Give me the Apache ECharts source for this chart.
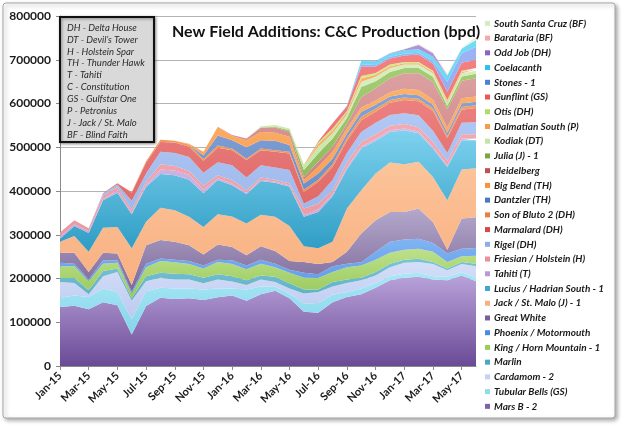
<!DOCTYPE html>
<html>
<head>
<meta charset="utf-8">
<script src="https://cdn.jsdelivr.net/npm/echarts@6/dist/echarts.min.js"></script>
<style>
html,body{margin:0;padding:0;background:#fff;}
#chart{width:622px;height:427px;}
</style>
</head>
<body>
<div id="chart"></div>
<script>
// Months (category axis)
const months = ['Jan-15','Feb-15','Mar-15','Apr-15','May-15','Jun-15','Jul-15','Aug-15','Sep-15','Oct-15','Nov-15','Dec-15',
  'Jan-16','Feb-16','Mar-16','Apr-16','May-16','Jun-16','Jul-16','Aug-16','Sep-16','Oct-16','Nov-16','Dec-16',
  'Jan-17','Feb-17','Mar-17','Apr-17','May-17','Jun-17'];

// Production per field, thousand bpd
const marsB        = [135,138,130,146,139,72,137,156,153,155,151,157,161,149,164,172,155,124,122,146,158,164,179,196,202,204,198,196,207,194];
const tubularBells = [21,23,28,31,30,35,34,23,24,22,24,20,16,26,18,9,11,19,22,17,11,13,11,9,9,9,7,8,8,8];
const cardamom     = [36,29,6,28,46,43,23,23,21,21,14,21,16,10,16,11,11,23,25,19,21,19,17,21,25,25,28,15,18,26];
const marlin       = [9,11,9,12,8,5,11,11,13,12,13,12,12,11,9,12,12,9,6,10,8,6,8,8,7,7,5,4,5,6];
const kingHorn     = [27,27,21,17,13,10,21,27,26,23,21,28,28,25,27,22,24,27,26,23,28,28,28,25,23,23,23,15,13,18];
const phoenix      = [8,6,4,8,6,5,8,6,6,7,7,5,9,9,9,8,7,11,9,13,8,7,18,25,23,23,20,19,17,18];
const greatWhite   = [23,25,17,17,15,15,42,42,41,36,25,35,30,23,31,29,20,25,23,10,27,66,72,68,63,69,48,9,69,70];
const jackStMalo   = [25,38,46,57,61,84,54,74,72,65,63,69,70,73,72,78,80,36,36,46,99,99,107,113,109,107,103,113,112,112];
const lucius       = [7,23,43,63,78,78,80,77,80,85,77,78,71,67,77,78,90,67,83,104,90,95,75,70,78,65,65,76,67,64];
const tahiti       = [5,4,4,3,5,4,4,10,11,11,8,4,4,3,3,3,3,5,6,5,5,4,4,4,4,4,4,4,4,4];
const friesian     = [9,9,7,7,8,7,7,12,10,9,9,7,8,6,5,4,4,14,13,9,10,11,11,10,10,10,11,10,10,10];
const rigel        = [0,0,0,5,6,20,19,29,30,32,30,30,34,29,28,28,31,11,17,23,22,23,26,25,25,27,26,18,26,27];
const marmalard    = [0,0,0,1,3,18,25,22,24,23,27,33,34,40,34,36,38,27,33,30,28,27,25,28,30,32,45,34,30,33];
const sonOfBluto   = [0,0,0,0,0,2,3,5,4,5,4,5,4,3,4,3,4,5,5,6,6,8,7,6,6,6,6,5,6,6];
const dantzler     = [0,0,0,0,0,0,0,0,0,0,8,23,19,26,19,22,15,14,14,13,10,11,9,8,8,8,8,7,8,8];
const bigBend      = [0,0,0,0,0,0,0,0,0,2,9,20,10,16,19,18,19,8,15,16,12,10,10,10,12,12,12,12,12,12];
const heidelberg   = [0,0,0,0,0,0,0,0,0,0,0,0,2,4,10,12,11,7,12,11,10,24,28,32,35,38,40,42,40,42];
const julia        = [0,0,0,0,0,0,0,0,0,0,0,0,0,0,0,2,4,16,19,19,14,23,16,14,12,12,12,8,10,10];
const kodiak       = [0,0,0,0,0,0,0,0,0,0,0,0,0,0,3,4,4,11,15,12,8,12,10,9,8,8,8,7,7,7];
const dalmatian    = [0,0,0,0,0,0,0,0,0,0,0,0,0,0,0,0,0,1,6,6,5,7,5,4,3,3,3,3,3,3];
const otis         = [0,0,0,0,0,0,0,0,0,0,0,0,0,0,0,0,0,0,4,5,3,6,4,4,3,3,3,3,3,3];
const gunflint     = [0,0,0,0,0,0,0,0,0,0,0,0,0,0,0,0,0,0,2,12,10,21,14,14,15,17,16,19,18,19];
const stones       = [0,0,0,0,0,0,0,0,0,0,0,0,0,0,0,0,0,0,0,0,2,6,4,4,4,4,6,23,22,30];
const coelacanth   = [0,0,0,0,0,0,0,0,0,0,0,0,0,0,0,0,0,0,0,0,0,8,8,7,8,8,10,14,10,15];
const oddJob       = [0,0,0,0,0,0,0,0,0,0,0,0,0,0,0,0,0,0,0,0,0,0,1,1,2,10,8,0,0,0];
const barataria    = [0,0,0,0,0,0,0,0,0,0,0,0,0,0,0,0,0,0,0,0,0,0,0,0,0,1,1,2,1,2];
const southSantaCruz = [0,0,0,0,0,0,0,0,0,0,0,0,0,0,0,0,0,0,0,0,0,0,0,0,1,1,1,2,1,5];

const yTicks = [0,100000,200000,300000,400000,500000,600000,700000,800000];
const abbreviations = ['DH - Delta House','DT - Devil\u2019s Tower','H - Holstein Spar','TH - Thunder Hawk','T - Tahiti',
  'C - Constitution','GS - Gulfstar One','P - Petronius','J - Jack / St. Malo','BF - Blind Faith'];
const titleText = 'New Field Additions: C&C Production (bpd)';

const grad = (a, b) => new echarts.graphic.LinearGradient(0, 0, 0, 1, [{offset: 0, color: a}, {offset: 1, color: b}]);

const defs = [
  ['Mars B - 2', marsB, '#8060a8', grad('#b9a2da', '#6a4a96')],
  ['Tubular Bells (GS)', tubularBells, '#8fdcef', grad('#a8e8f6', '#86d4ea')],
  ['Cardamom - 2', cardamom, '#c4d2f4', grad('#d4def8', '#bccaf0')],
  ['Marlin', marlin, '#4aa8c0', grad('#7cc4d6', '#5aaec4')],
  ['King / Horn Mountain - 1', kingHorn, '#9ccc58', grad('#bde08a', '#98c85a')],
  ['Phoenix / Motormouth', phoenix, '#4a8ce0', grad('#80b4f4', '#5c98e4')],
  ['Great White', greatWhite, '#7a609a', grad('#b4a8cc', '#7c6898')],
  ['Jack / St. Malo (J) - 1', jackStMalo, '#f8b080', grad('#fcc49a', '#f8b080')],
  ['Lucius / Hadrian South - 1', lucius, '#40a8cc', grad('#7ed2ee', '#2e9cc4')],
  ['Tahiti (T)', tahiti, '#b89ad8', grad('#d0b8e8', '#c4a8dc')],
  ['Friesian / Holstein (H)', friesian, '#ec9098', grad('#f4aab0', '#ea98a0')],
  ['Rigel (DH)', rigel, '#8caee8', grad('#b0c8f4', '#98b4ea')],
  ['Marmalard (DH)', marmalard, '#d84848', grad('#ec8080', '#dc6464')],
  ['Son of Bluto 2 (DH)', sonOfBluto, '#e88040', grad('#f4a060', '#ea8c4c')],
  ['Dantzler (TH)', dantzler, '#4a78c0', grad('#84a4d8', '#6686c4')],
  ['Big Bend (TH)', bigBend, '#f89040', grad('#fcb068', '#f89a4c')],
  ['Heidelberg', heidelberg, '#c05050', grad('#dca0a0', '#cc7676')],
  ['Julia (J) - 1', julia, '#78a840', grad('#a4cc74', '#84b450')],
  ['Kodiak (DT)', kodiak, '#c4e4a4', grad('#d8eec0', '#c0e0a0')],
  ['Dalmatian South (P)', dalmatian, '#f89c48', grad('#fcb068', '#f8a050')],
  ['Otis (DH)', otis, '#b0dc60', grad('#d0ec90', '#b8e070')],
  ['Gunflint (GS)', gunflint, '#e85858', grad('#f48080', '#e86868')],
  ['Stones - 1', stones, '#4a80d8', grad('#9cb4f4', '#7c9ae8')],
  ['Coelacanth', coelacanth, '#30c0e8', grad('#70dcf8', '#48c8ec')],
  ['Odd Job (DH)', oddJob, '#8c64c0', grad('#b094dc', '#9676c8')],
  ['Barataria (BF)', barataria, '#f4aaaa', grad('#f8c0c0', '#f4b0b0')],
  ['South Santa Cruz (BF)', southSantaCruz, '#d4ecc0', grad('#e0f2d0', '#d4ecc0')]
];

const series = defs.map(([name, data, legendColor, fill]) => ({
  name: name,
  type: 'line',
  stack: 'total',
  data: data.map(v => v * 1000),
  symbol: 'none',
  showSymbol: false,
  lineStyle: {width: 0, opacity: 0},
  itemStyle: {color: legendColor},
  areaStyle: {color: fill, opacity: 1},
  emphasis: {disabled: true},
  z: 2
}));

const chart = echarts.init(document.getElementById('chart'), null, {renderer: 'canvas'});

const abbrevText = abbreviations.map((t, i) => ({
  type: 'text', z: 101, x: 67, y: 27.7 + i * 11.9,
  style: {text: t, fill: '#2a2a2a', fontStyle: 'italic', fontWeight: 'normal', fontSize: 9.5,
    fontFamily: 'Lato', verticalAlign: 'middle', align: 'left'}
}));

chart.setOption({
  animation: false,
  backgroundColor: 'transparent',
  grid: {left: 60, right: 146, top: 16, bottom: 61, containLabel: false, outerBoundsMode: 'none'},
  xAxis: {
    type: 'category',
    data: months,
    boundaryGap: false,
    axisLine: {lineStyle: {color: '#8a8a8a', width: 1}},
    axisTick: {show: true, interval: 1, length: 4, lineStyle: {color: '#8a8a8a'}},
    axisLabel: {interval: 1, rotate: 45, margin: 8, color: '#1a1a1a', fontSize: 11, fontWeight: 'bold',
      fontFamily: 'Lato, "Open Sans", sans-serif'},
    splitLine: {show: false}
  },
  yAxis: {
    type: 'value',
    min: 0, max: 800000, interval: 100000,
    axisLine: {show: true, lineStyle: {color: '#8a8a8a'}},
    axisTick: {show: true, length: 4, lineStyle: {color: '#8a8a8a'}},
    axisLabel: {color: '#1a1a1a', fontSize: 12, fontWeight: 'bold', margin: 9,
      fontFamily: 'Lato, "Open Sans", sans-serif',
      formatter: v => yTicks.includes(v) ? String(v) : ''},
    splitLine: {show: true, lineStyle: {color: '#b4b4b4', width: 1}}
  },
  legend: {
    orient: 'vertical',
    left: 485, top: 16,
    data: defs.map(d => d[0]).reverse(),
    icon: 'rect',
    itemWidth: 5, itemHeight: 5, itemGap: 0,
    padding: 0,
    selectedMode: false,
    textStyle: {color: '#1a1a1a', fontSize: 10, fontWeight: 'bold', fontStyle: 'italic', lineHeight: 14.73,
      fontFamily: 'Lato, "Open Sans", sans-serif', padding: [0, 0, 0, -1]}
  },
  graphic: [
    {type: 'rect', z: -10, shape: {x: 3, y: 3, width: 612, height: 415, r: 3},
      style: {fill: '#fff', stroke: '#a8a8a8', lineWidth: 1, shadowBlur: 4, shadowOffsetX: 2, shadowOffsetY: 2, shadowColor: 'rgba(0,0,0,0.35)'}},
    {type: 'rect', z: 100, shape: {x: 60, y: 17, width: 94, height: 125},
      style: {fill: '#d9d9d9', stroke: '#111', lineWidth: 2, shadowBlur: 3, shadowOffsetX: 1, shadowOffsetY: 1, shadowColor: 'rgba(0,0,0,0.4)'}},
    ...abbrevText,
    {type: 'text', z: 101, x: 172, y: 32,
      style: {text: titleText, fill: '#111', fontWeight: 'bold', fontSize: 16, fontFamily: 'Lato',
        verticalAlign: 'middle', align: 'left'}}
  ],
  series: series
});
</script>
</body>
</html>
